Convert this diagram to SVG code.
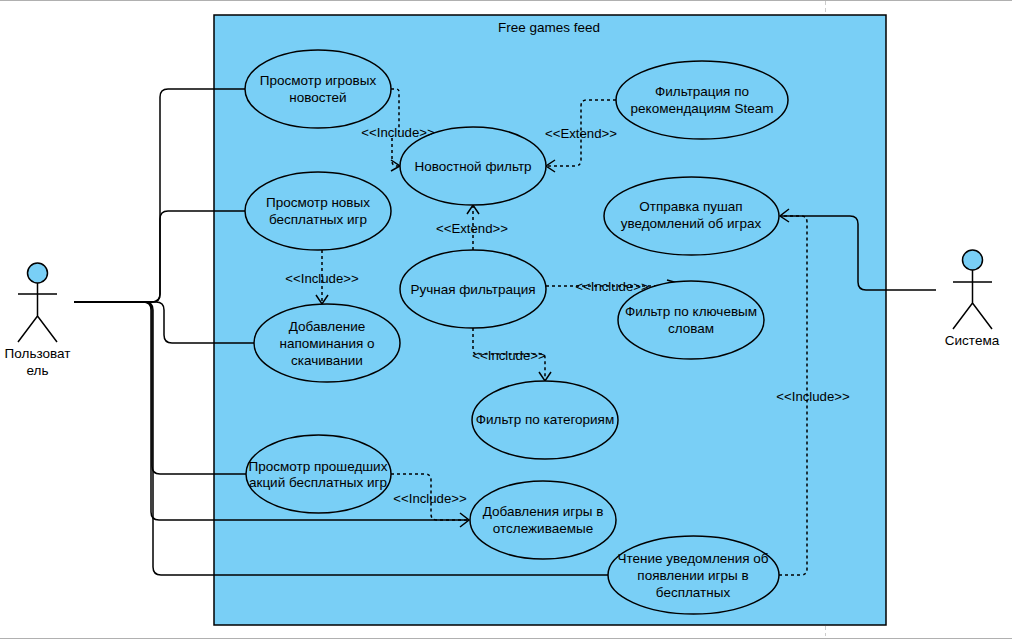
<svg xmlns="http://www.w3.org/2000/svg" width="1012" height="640" viewBox="0 0 1012 640">
<style>
text{font-family:"Liberation Sans",Arial,sans-serif;font-size:13.5px;fill:#000;text-anchor:middle}
#labels text{font-size:13.2px}
.u{fill:#79cff6;stroke:#000;stroke-width:1.5}
.a{fill:none;stroke:#000;stroke-width:1.5}
.d{fill:none;stroke:#000;stroke-width:1.5;stroke-dasharray:3 3}
.p{fill:none;stroke:#000;stroke-width:1.5}
</style>
<rect width="1012" height="640" fill="#fff"/>
<g id="chrome" fill="none" stroke="#b0b0b0">
<path d="M0 .5H1012M0 638.5H1012"/>
<path d="M825.5 1V15M825.5 626V636" stroke="#ccc" stroke-dasharray="4 3"/>
</g>
<g id="system"><rect x="214" y="15" width="672" height="610" fill="#79cff6" stroke="#000" stroke-width="1.5"/><text x="549" y="32">Free games feed</text></g>
<g id="connectors">
<path class="a" d="M74 302H152Q160 302 160 294V97Q160 89 168 89H245"/>
<path class="a" d="M74 302H152Q160 302 160 294V219Q160 211 168 211H245"/>
<path class="a" d="M74 302H156Q164 302 164 310V335Q164 343 172 343H254"/>
<path class="a" d="M74 302H144Q152 302 152 310V466Q152 474 160 474H246"/>
<path class="a" d="M74 302H143Q151 302 151 310V512Q151 520 159 520H469"/>
<path class="a" d="M74 302H145Q153 302 153 310V567Q153 575 161 575H608"/>
<path class="p" d="M460 513L469 520L460 527"/>
<path class="a" d="M936 290H866Q858 290 858 282V224Q858 216 850 216H780"/>
<path class="p" d="M789 209L780 216L789 222"/>
<path class="d" d="M391 89H396Q399 89 399 92V132"/>
<path class="d" d="M392 138V161Q392 166 397 166H400"/>
<path class="p" d="M391 160L400 166L391 171"/>
<path class="d" d="M616 100H587Q581 100 581 106V160Q581 166 575 166H546"/>
<path class="p" d="M555 160L546 166L555 172"/>
<path class="d" d="M473 250V205"/>
<path class="p" d="M467 214L473 205L479 214"/>
<path class="d" d="M322 250V304"/>
<path class="p" d="M316 295L322 304L328 295"/>
<path class="d" d="M546 286H678"/>
<path class="p" d="M667 280L678 283L667 287"/>
<path class="d" d="M473 328V350Q473 354 477 354H541Q545 354 545 358V381"/>
<path class="p" d="M539 372L545 381L551 372"/>
<path class="d" d="M391 474H425Q431 474 431 480V514Q431 520 437 520H470"/>
<path class="d" d="M779 575H801Q807 575 807 569V222Q807 216 801 216H780"/>
</g>
<g id="actor-user" class="actor"><circle class="u" cx="37.500" cy="273" r="10"/><path class="a" d="M37.500 283V316M18 294H57M18 342L37.500 316L57 342"/><text x="37.500" y="358">Пользоват</text><text x="37.500" y="375">ель</text></g>
<g id="actor-system"><circle class="u" cx="972.500" cy="260" r="10"/><path class="a" d="M972.500 270V303M953 282H992M953 329L972.500 303L992 329"/><text x="972" y="345">Система</text></g>
<g id="uc-news"><ellipse class="u" cx="318" cy="89" rx="73" ry="39"/><text x="318" y="85">Просмотр игровых</text><text x="318" y="102">новостей</text></g>
<g id="uc-newsfilter"><ellipse class="u" cx="473" cy="166" rx="73" ry="39"/><text x="473" y="171">Новостной фильтр</text></g>
<g id="uc-steam"><ellipse class="u" cx="702" cy="100" rx="86" ry="39"/><text x="702" y="96">Фильтрация по</text><text x="702" y="113">рекомендациям Steam</text></g>
<g id="uc-push"><ellipse class="u" cx="691.500" cy="216" rx="87.500" ry="39"/><text x="691" y="211">Отправка пушап</text><text x="691" y="228">уведомлений об играх</text></g>
<g id="uc-newfree"><ellipse class="u" cx="318" cy="211" rx="73" ry="39"/><text x="318" y="207">Просмотр новых</text><text x="318" y="224">бесплатных игр</text></g>
<g id="uc-manual"><ellipse class="u" cx="473" cy="289" rx="73" ry="39"/><text x="473" y="294">Ручная фильтрация</text></g>
<g id="uc-keywords"><ellipse class="u" cx="691" cy="320" rx="73" ry="39"/><text x="691" y="316">Фильтр по ключевым</text><text x="691" y="333">словам</text></g>
<g id="uc-reminder"><ellipse class="u" cx="327" cy="343" rx="73" ry="39"/><text x="327" y="331">Добавление</text><text x="327" y="348">напоминания о</text><text x="327" y="365">скачивании</text></g>
<g id="uc-category"><ellipse class="u" cx="545" cy="420" rx="73" ry="39"/><text x="545" y="424">Фильтр по категориям</text></g>
<g id="uc-past"><ellipse class="u" cx="318.500" cy="474" rx="72.500" ry="39"/><text x="318" y="471">Просмотр прошедших</text><text x="318" y="487">акций бесплатных игр</text></g>
<g id="uc-track"><ellipse class="u" cx="543" cy="520" rx="73" ry="39"/><text x="543" y="516">Добавления игры в</text><text x="543" y="533">отслеживаемые</text></g>
<g id="uc-read"><ellipse class="u" cx="693.500" cy="575" rx="85.500" ry="39"/><text x="693" y="563">Чтение уведомления об</text><text x="693" y="580">появлении игры в</text><text x="693" y="597">бесплатных</text></g>
<g id="labels">
<text x="398" y="137">&lt;&lt;Include&gt;&gt;</text>
<text x="581" y="138">&lt;&lt;Extend&gt;&gt;</text>
<text x="472" y="233">&lt;&lt;Extend&gt;&gt;</text>
<text x="322" y="283">&lt;&lt;Include&gt;&gt;</text>
<text x="612" y="291">&lt;&lt;Include&gt;&gt;</text>
<text x="509" y="360">&lt;&lt;Include&gt;&gt;</text>
<text x="430" y="503">&lt;&lt;Include&gt;&gt;</text>
<text x="813" y="401">&lt;&lt;Include&gt;&gt;</text>
</g>
</svg>
